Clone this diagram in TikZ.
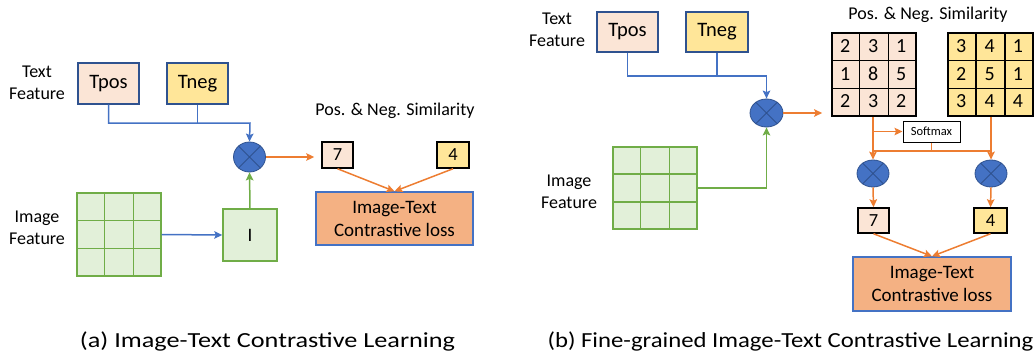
\documentclass[tikz,border=0pt]{standalone}
\usepackage{fontspec}
\setmainfont{Carlito}
\usetikzlibrary{arrows.meta,shapes.geometric,calc}
\definecolor{pinkf}{HTML}{FBE5D6}
\definecolor{yelf}{HTML}{FFE699}
\definecolor{grnf}{HTML}{E2F0D9}
\definecolor{grnd}{HTML}{70AD47}
\definecolor{bluel}{HTML}{4472C4}
\definecolor{blued}{HTML}{2F528F}
\definecolor{orl}{HTML}{ED7D31}
\definecolor{lossf}{HTML}{F4B183}
\tikzset{
  lbl/.style={font=\fontsize{18}{22}\selectfont, align=center, inner sep=0pt},
  numtxt/.style={font=\fontsize{20}{22}\selectfont, inner sep=0pt},
  captxt/.style={font=\fontsize{21.5}{26}\selectfont, inner sep=0pt},
  tbox/.style={draw=blued, line width=1.4pt, inner sep=0pt, font=\fontsize{20.5}{22}\selectfont},
  numbox/.style={draw=black, line width=1.5pt, inner sep=0pt, font=\fontsize{18.5}{22}\selectfont},
  lossbox/.style={draw=bluel, line width=1.4pt, fill=lossf, inner sep=0pt, align=center, font=\fontsize{19}{23}\selectfont},
  gridbox/.style={draw=grnd, fill=grnf, line width=1.4pt, inner sep=0pt},
  mul/.style={ellipse, draw=blued, line width=0.8pt, fill=bluel, inner sep=0pt},
  arr/.style={line width=1.5pt, -{Stealth[length=8pt,width=7.5pt,inset=1.5pt]}},
  ln/.style={line width=1.5pt},
}
\newcommand{\crossin}[1]{\draw[blued, line width=0.9pt] (#1.45) -- (#1.225) (#1.135) -- (#1.315);}
\newcommand{\gridlines}[2]{%
  \draw[#2, line width=1.4pt]
    ($(#1.north west)!1/3!(#1.north east)$) -- ($(#1.south west)!1/3!(#1.south east)$)
    ($(#1.north west)!2/3!(#1.north east)$) -- ($(#1.south west)!2/3!(#1.south east)$)
    ($(#1.north west)!1/3!(#1.south west)$) -- ($(#1.north east)!1/3!(#1.south east)$)
    ($(#1.north west)!2/3!(#1.south west)$) -- ($(#1.north east)!2/3!(#1.south east)$);}
\begin{document}
\begin{tikzpicture}[x=1pt,y=-1pt]
\useasboundingbox (0,0) rectangle (1036,356);
% ---------------- (a) ----------------
\node[lbl] (tfA) at (37,83) {Text\\Feature};
\node[lbl] (ifA) at (37,228) {Image\\Feature};
\node[tbox, fill=pinkf, minimum width=61pt, minimum height=41pt] (tposA) at (108.5,83.5) {Tpos};
\node[tbox, fill=yelf, minimum width=61pt, minimum height=41pt] (tnegA) at (197.5,83.5) {Tneg};
\node[mul, minimum width=32pt, minimum height=30pt] (circA) at (249.5,157) {};
\crossin{circA}
\node[lbl] (simA) at (395,111) {Pos. \& Neg. Similarity};
\node[numbox, fill=pinkf, minimum width=31pt, minimum height=26pt] (sevenA) at (337.5,155) {7};
\node[numbox, fill=yelf, minimum width=32pt, minimum height=26pt] (fourA) at (453,155) {4};
\node[lossbox, minimum width=157pt, minimum height=53pt] (lossA) at (394.5,218.5) {Image-Text\\Contrastive loss};
\node[gridbox, minimum width=84pt, minimum height=83pt] (gridA) at (119,234.5) {};
\gridlines{gridA}{grnd}
\node[gridbox, minimum width=54pt, minimum height=52pt, font=\fontsize{19}{22}\selectfont] (IA) at (250,235) {I};
\coordinate (jA) at (250,123);
\draw[bluel, arr] (tposA.south) |- (jA) -- (circA.north);
\draw[bluel, ln] (tnegA.south) -- (tnegA.south |- jA);
\draw[orl, arr, shorten >=7pt] (circA.east) -- (circA.east -| sevenA.west);
\draw[orl, arr] (sevenA.south) -- (lossA.north);
\draw[orl, arr] (fourA.south) -- (lossA.north);
\draw[bluel, arr] (gridA.east) -- (IA.west);
\draw[grnd, arr] (IA.north) -- (circA.south);
\node[captxt] (capA) at (267.5,341) {\scalebox{1.22}[1]{(a) Image-Text Contrastive Learning}};
% ---------------- (b) ----------------
\node[lbl] (tfB) at (557,30) {Text\\Feature};
\node[lbl] (ifB) at (569,192) {Image\\Feature};
\node[tbox, fill=pinkf, minimum width=61pt, minimum height=40pt] (tposB) at (627.5,32) {Tpos};
\node[tbox, fill=yelf, minimum width=62pt, minimum height=40pt] (tnegB) at (717,32) {Tneg};
\node[mul, minimum width=33pt, minimum height=28pt] (circB) at (766.5,113) {};
\crossin{circB}
\node[lbl] (simB) at (928,15) {Pos. \& Neg. Similarity};
% matrices
\node[draw=black, fill=pinkf, line width=1.7pt, minimum width=84pt, minimum height=83pt, inner sep=0pt] (matP) at (874,74.5) {};
\gridlines{matP}{black}
\node[draw=black, fill=yelf, line width=1.7pt, minimum width=85pt, minimum height=83pt, inner sep=0pt] (matY) at (990.5,74.5) {};
\gridlines{matY}{black}
\foreach \r/\a/\b/\c in {1/2/3/1, 2/1/8/5, 3/2/3/2}{
  \foreach \col/\v in {1/\a, 2/\b, 3/\c}{
    \node[numtxt] (p-\r-\col) at ($(matP.north west)+(\col*28-14,\r*27.67-13.8)$) {\v};
  }
}
\foreach \r/\a/\b/\c in {1/3/4/1, 2/2/5/1, 3/3/4/4}{
  \foreach \col/\v in {1/\a, 2/\b, 3/\c}{
    \node[numtxt] (y-\r-\col) at ($(matY.north west)+(\col*28.33-14.2,\r*27.67-13.8)$) {\v};
  }
}
\node[draw=black, line width=1pt, fill=white, minimum width=57pt, minimum height=21pt, inner sep=0pt, font=\fontsize{12.5}{14}\selectfont] (soft) at (931.5,131.5) {Softmax};
\node[mul, minimum width=32pt, minimum height=27pt] (c1) at (873,173.5) {};
\crossin{c1}
\node[mul, minimum width=32pt, minimum height=27pt] (c2) at (991,173.5) {};
\crossin{c2}
\node[numbox, fill=pinkf, minimum width=31pt, minimum height=25pt] (sevenB) at (873.5,220.5) {7};
\node[numbox, fill=yelf, minimum width=33pt, minimum height=25pt] (fourB) at (990.5,220.5) {4};
\node[lossbox, minimum width=158pt, minimum height=54pt] (lossB) at (932,284) {Image-Text\\Contrastive loss};
\node[gridbox, minimum width=84pt, minimum height=82pt] (gridB) at (655,188) {};
\gridlines{gridB}{grnd}
\coordinate (jB) at (766.5,76);
\draw[bluel, arr] (tposB.south) |- (jB) -- (circB.north);
\draw[bluel, ln] (tnegB.south) -- (tnegB.south |- jB);
\draw[grnd, arr] (gridB.east) -| (circB.south);
\draw[orl, arr, shorten >=9pt] (circB.east) -- (circB.east -| matP.west);
\draw[orl, arr] (matP.south -| c1.north) -- (c1.north);
\draw[orl, arr] (c1.north |- soft.west) -- (soft.west);
\draw[orl, arr] (matY.south -| c2.north) -- (c2.north);
\coordinate (hL) at (873,151);
\coordinate (hR) at (991,151);
\draw[orl, ln] (hL) -- (hR);
\draw[orl, ln] (soft.south) -- (soft.south |- hL);
\draw[orl, arr] (c1.south) -- (sevenB.north);
\draw[orl, arr] (c2.south) -- (fourB.north);
\draw[orl, arr] (sevenB.south) -- (lossB.north);
\draw[orl, arr] (fourB.south) -- (lossB.north);
\node[captxt] (capB) at (790.5,341) {\scalebox{1.15}[1]{(b) Fine-grained Image-Text Contrastive Learning}};
\end{tikzpicture}
\end{document}
